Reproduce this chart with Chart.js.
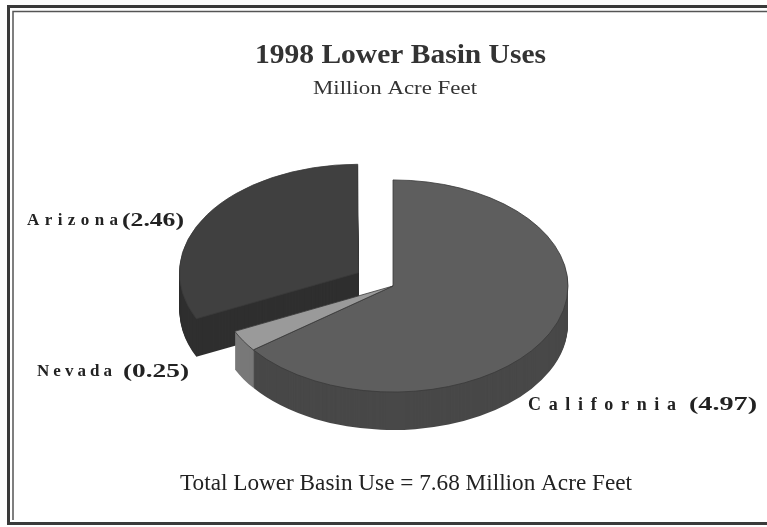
<!DOCTYPE html>
<html>
<head>
<meta charset="utf-8">
<script src="https://cdn.jsdelivr.net/npm/chart.js@4/dist/chart.umd.min.js"></script>
<style>
html,body{margin:0;padding:0;background:#fff;overflow:hidden}
canvas{display:block}
</style>
</head>
<body>
<canvas id="c" width="767" height="527"></canvas>
<script>
// ---- data ----
const categories = ['California', 'Nevada', 'Arizona'];
const values = [4.97, 0.25, 2.46];
const titleText = '1998 Lower Basin Uses';
const subtitleText = 'Million Acre Feet';
const unitText = 'Million Acre Feet';

// ---- style ----
const topColors = ['#5e5e5e', '#9a9a9a', '#404040'];
const sideColors = ['#484848', '#787878', '#2f2f2f'];
const explodeOffsets = [0, 0, 164];
const TILT = 0.606;
const DEPTH = 38;

const total = values.reduce((a, b) => a + b, 0);

function tilt(ctx, el) {
  ctx.translate(0, el.y);
  ctx.scale(1, TILT);
  ctx.translate(0, -el.y);
}

const pie3d = {
  id: 'pie3d',
  beforeDatasetsDraw(chart) {
    const ctx = chart.ctx;
    const meta = chart.getDatasetMeta(0);
    const order = [2, 1, 0];
    for (const idx of order) {
      const el = meta.data[idx];
      const orig = el.options;
      el.options = Object.assign({}, orig, {
        backgroundColor: sideColors[idx],
        borderColor: sideColors[idx],
        borderWidth: 0
      });
      for (let d = DEPTH; d >= 1; d--) {
        ctx.save();
        ctx.translate(0, d);
        tilt(ctx, el);
        el.draw(ctx);
        ctx.restore();
      }
      el.options = orig;
    }
    ctx.save();
    tilt(ctx, meta.data[0]);
  },
  afterDatasetsDraw(chart) {
    chart.ctx.restore();
  }
};

function fitText(ctx, text, x, cy, w, font, color) {
  ctx.save();
  ctx.font = font;
  ctx.fillStyle = color || '#2b2b2b';
  ctx.textBaseline = 'middle';
  ctx.textAlign = 'left';
  const m = ctx.measureText(text).width;
  ctx.translate(x, cy);
  ctx.scale(w / m, 1);
  ctx.fillText(text, 0, 0);
  ctx.restore();
}

function spacedText(ctx, text, x, cy, w, font, color) {
  ctx.save();
  ctx.font = font;
  ctx.fillStyle = color || '#2b2b2b';
  ctx.textBaseline = 'middle';
  ctx.textAlign = 'left';
  ctx.letterSpacing = '0px';
  const m = ctx.measureText(text).width;
  const sp = Math.max(0, (w - m) / (text.length - 1));
  ctx.letterSpacing = sp + 'px';
  ctx.fillText(text, x, cy);
  ctx.restore();
}

const textPlugin = {
  id: 'texts',
  beforeDraw(chart) {
    const ctx = chart.ctx;
    ctx.save();
    ctx.fillStyle = '#fff';
    ctx.fillRect(0, 0, chart.width, chart.height);
    ctx.strokeStyle = '#3a3a3a';
    ctx.lineWidth = 3;
    ctx.beginPath();
    ctx.moveTo(790, 6.5); ctx.lineTo(8.5, 6.5); ctx.lineTo(8.5, 523.5); ctx.lineTo(790, 523.5);
    ctx.stroke();
    ctx.lineWidth = 1.5;
    ctx.strokeStyle = '#555';
    ctx.beginPath();
    ctx.moveTo(790, 11.5); ctx.lineTo(13, 11.5); ctx.lineTo(13, 520);
    ctx.stroke();
    ctx.restore();
  },
  afterDraw(chart) {
    const ctx = chart.ctx;
    const serif = '"Liberation Serif", "Times New Roman", serif';
    fitText(ctx, titleText, 255, 56, 291, 'bold 28px ' + serif, '#333');
    fitText(ctx, subtitleText, 313, 89, 164, '19px ' + serif, '#333');
    const nameFont = 'bold 17px ' + serif;
    const valFont = 'bold 18px ' + serif;
    const val = i => '(' + values[i].toFixed(2) + ')';
    // Arizona
    spacedText(ctx, categories[2], 27, 221, 91, nameFont, '#222');
    fitText(ctx, val(2), 122, 221, 62, valFont, '#222');
    // Nevada
    spacedText(ctx, categories[1], 37, 372, 75, nameFont, '#222');
    fitText(ctx, val(1), 123, 372, 66, valFont, '#222');
    // California
    spacedText(ctx, categories[0], 528, 405, 148, 'bold 18px ' + serif, '#222');
    fitText(ctx, val(0), 689, 405, 68, valFont, '#222');
    fitText(ctx, 'Total Lower Basin Use = ' + total.toFixed(2) + ' ' + unitText,
      180, 484, 452, '23px ' + serif, '#222');
  }
};

new Chart(document.getElementById('c'), {
  type: 'pie',
  data: {
    labels: categories,
    datasets: [{
      data: values,
      backgroundColor: topColors,
      borderColor: '#3a3a3a',
      borderWidth: 1,
      offset: explodeOffsets
    }]
  },
  options: {
    responsive: false,
    animation: false,
    radius: 175,
    layout: { padding: { left: 20, right: 1, top: 50, bottom: 5 } },
    plugins: {
      legend: { display: false },
      tooltip: { enabled: false },
      title: { display: false }
    },
    events: []
  },
  plugins: [textPlugin, pie3d]
});
</script>
</body>
</html>
